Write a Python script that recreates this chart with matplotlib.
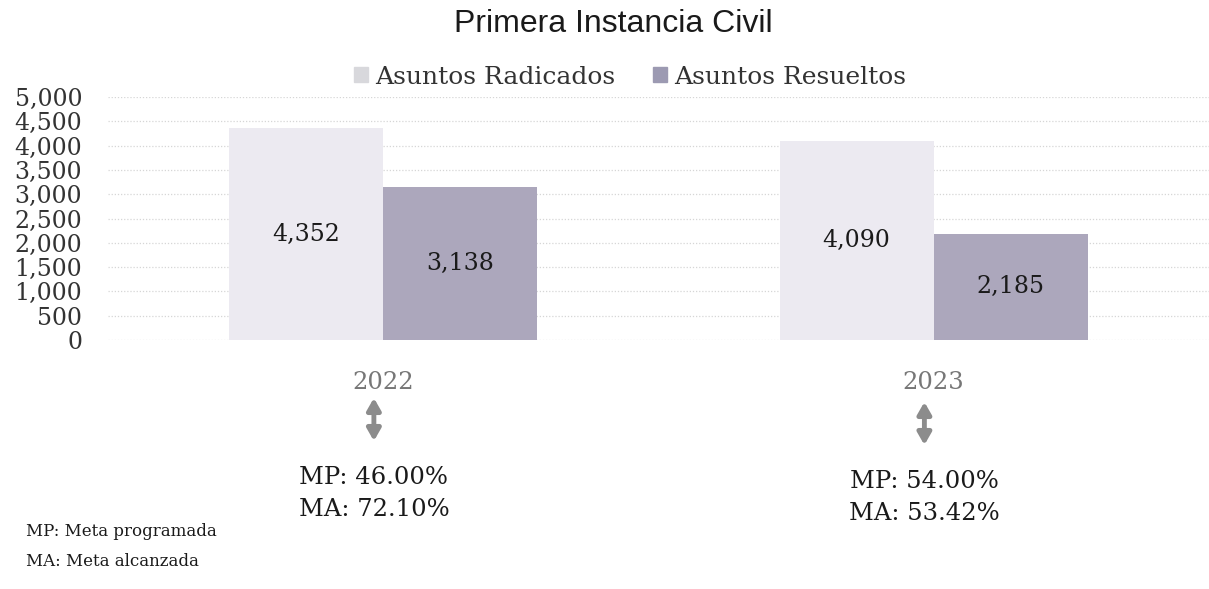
import matplotlib
matplotlib.use("Agg")
import matplotlib.pyplot as plt
import matplotlib.transforms as mtransforms
import numpy as np

# ---- data ----
years = ["2022", "2023"]
radicados = [4352, 4090]
resueltos = [3138, 2185]
meta_programada = ["46.00%", "54.00%"]
meta_alcanzada = ["72.10%", "53.42%"]
series_names = ["Asuntos Radicados", "Asuntos Resueltos"]
title = "Primera Instancia Civil"
footnotes = ["MP: Meta programada", "MA: Meta alcanzada"]

W, H = 1209, 589
fig = plt.figure(figsize=(W / 100, H / 100), dpi=100)
serif = "DejaVu Serif"

ax = fig.add_axes([108 / W, (H - 340) / H, (W - 108) / W, (340 - 97) / H])
x = np.arange(len(years))
bw = 0.28
col_rad = "#eceaf1"
col_res = "#aca7bc"
b1 = ax.bar(x - bw / 2, radicados, bw, color=col_rad, label=series_names[0], zorder=2)
b2 = ax.bar(x + bw / 2, resueltos, bw, color=col_res, label=series_names[1], zorder=2)

for bars in (b1, b2):
    ax.bar_label(bars, labels=[f"{v:,}" for v in bars.datavalues], label_type="center",
                 fontsize=17, family=serif, color="#1a1a1a")

ax.set_xlim(-0.5, 1.5)
ax.set_ylim(0, 5000)
ax.set_yticks(np.arange(0, 5001, 500))
ax.set_yticklabels([f"{v:,}" for v in range(0, 5001, 500)], family=serif, fontsize=17, color="#333333")
ax.tick_params(axis="y", length=0, pad=18.5)
ax.set_xticks(x)
ax.set_xticklabels(years, family=serif, fontsize=17.5, color="#777777")
ax.tick_params(axis="x", length=0, pad=22)
ax.grid(axis="y", color="#d6d6d6", linestyle=(0, (1, 1.5)), linewidth=0.9, zorder=0)
for s in ax.spines.values():
    s.set_visible(False)

fig.text(613 / W, 1 - 24 / H, title, ha="center", va="center", fontsize=23,
         family="Liberation Sans", color="#1a1a1a")

leg = fig.legend(handles=[b1, b2], labels=series_names, loc="center",
                 bbox_to_anchor=(630 / W, 1 - 77 / H), ncol=2, frameon=False,
                 prop={"family": serif, "size": 18}, handlelength=0.55, handleheight=0.55,
                 handletextpad=0.3, columnspacing=1.5)
for t in leg.get_texts():
    t.set_color("#333333")
leg.legend_handles[0].set_color("#d8d8dc")
leg.legend_handles[1].set_color("#9c9ab2")

trans = mtransforms.blended_transform_factory(ax.transData, fig.transFigure)
offs_y = [0, 4]
for i in range(len(years)):
    dy = offs_y[i]
    xi = x[i] - 0.017
    ax.annotate("", xy=(xi, 1 - (398 + dy) / H), xytext=(xi, 1 - (441 + dy) / H),
                xycoords=trans, textcoords=trans,
                arrowprops=dict(arrowstyle="<|-|>,head_length=0.7,head_width=0.4",
                                color="#8c8c8c", lw=3.5, shrinkA=0, shrinkB=0),
                annotation_clip=False)
    ax.text(xi, 1 - (477 + dy) / H, f"MP: {meta_programada[i]}", transform=trans,
            ha="center", va="center", fontsize=17.5, family=serif, color="#1a1a1a")
    ax.text(xi, 1 - (510 + dy) / H, f"MA: {meta_alcanzada[i]}", transform=trans,
            ha="center", va="center", fontsize=17.5, family=serif, color="#1a1a1a")

fig.text(26 / W, 1 - 532 / H, footnotes[0], ha="left", va="center", fontsize=12,
         family=serif, color="#1a1a1a")
fig.text(26 / W, 1 - 562 / H, footnotes[1], ha="left", va="center", fontsize=12,
         family=serif, color="#1a1a1a")

fig.savefig("out.png", dpi=100, facecolor="white")
